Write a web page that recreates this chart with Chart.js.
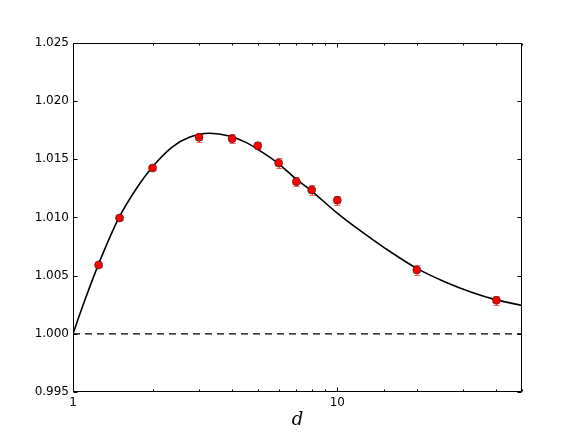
<!DOCTYPE html>
<html>
<head>
<meta charset="utf-8">
<script src="https://cdn.jsdelivr.net/npm/chart.js@4/dist/chart.umd.min.js"></script>
<style>
html,body{margin:0;padding:0;background:#fff;}
#wrap{width:581px;height:436px;}
</style>
</head>
<body>
<div id="wrap"><canvas id="c" width="581" height="436"></canvas></div>
<script>
// Measured data points
const pointD   = [1.25, 1.5, 2, 3, 4, 5, 6, 7, 8, 10, 20, 40];
const pointVal = [1.00592, 1.00996, 1.01425, 1.01689, 1.01677, 1.01617, 1.01468, 1.01308, 1.01236, 1.01148, 1.00549, 1.00288];
const pointErr = [0.0002, 0.0002, 0.0002, 0.0004, 0.0004, 0.0003, 0.0004, 0.0004, 0.0004, 0.0004, 0.0004, 0.0004];

// Fitted curve
const curveD   = [1, 1.091, 1.243, 1.491, 1.733, 1.987, 2.385, 2.756, 3.281, 3.902, 4.508, 5.212, 5.973, 6.985, 7.957, 9.97, 12.11, 15.27, 19.92, 25.72, 32.40, 39.71, 50];
const curveVal = [1.0000, 1.00245, 1.00586, 1.00996, 1.01245, 1.01428, 1.01609, 1.01689, 1.01724, 1.01701, 1.01646, 1.01560, 1.01466, 1.01330, 1.01232, 1.01040, 1.00893, 1.00731, 1.00565, 1.00444, 1.00356, 1.00294, 1.00244];

// Reference line
const refD   = [1, 50];
const refVal = [1.0, 1.0];

// Axes
const xMin = 1, xMax = 50;
const yMin = 0.995, yMax = 1.025, yStep = 0.005;
const xLabelled = [1, 10];
const xTitle = 'd';

const errPlugin = {
  id: 'errbars',
  beforeDatasetsDraw(chart) {
    const {ctx, scales: {x, y}} = chart;
    ctx.save();
    ctx.strokeStyle = 'rgba(255,30,30,0.7)';
    ctx.lineWidth = 1;
    pointD.forEach((d, i) => {
      const px = Math.round(x.getPixelForValue(d)) + 0.5;
      const y1 = Math.round(y.getPixelForValue(pointVal[i] - pointErr[i])) + 0.5;
      const y2 = Math.round(y.getPixelForValue(pointVal[i] + pointErr[i])) + 0.5;
      ctx.beginPath();
      ctx.moveTo(px, y1); ctx.lineTo(px, y2);
      ctx.moveTo(px - 3, y1); ctx.lineTo(px + 3, y1);
      ctx.moveTo(px - 3, y2); ctx.lineTo(px + 3, y2);
      ctx.stroke();
    });
    ctx.restore();
  }
};

const framePlugin = {
  id: 'frame',
  afterDraw(chart) {
    const {ctx, chartArea: a, scales: {x, y}} = chart;
    ctx.save();
    ctx.strokeStyle = '#000';
    ctx.lineWidth = 1;
    const L = Math.round(a.left) + 0.5, R = Math.round(a.right) - 0.5;
    const T = Math.round(a.top) + 0.5, B = Math.round(a.bottom) - 0.5;
    ctx.beginPath();
    ctx.rect(L, T, R - L, B - T);
    ctx.stroke();
    ctx.beginPath();
    x.ticks.forEach(t => {
      const v = t.value;
      const major = xLabelled.includes(v);
      const len = major ? 4 : 2;
      const px = Math.round(x.getPixelForValue(v)) + 0.5;
      ctx.moveTo(px, B); ctx.lineTo(px, B - len);
      ctx.moveTo(px, T); ctx.lineTo(px, T + len);
    });
    y.ticks.forEach(t => {
      const py = Math.round(y.getPixelForValue(t.value)) + 0.5;
      ctx.moveTo(L, py); ctx.lineTo(L + 4, py);
      ctx.moveTo(R, py); ctx.lineTo(R - 4, py);
    });
    ctx.stroke();
    ctx.restore();
  }
};

Chart.defaults.font.family = 'DejaVu Sans';
Chart.defaults.font.size = 12;
Chart.defaults.color = '#000';

new Chart(document.getElementById('c'), {
  type: 'scatter',
  data: {
    datasets: [
      {
        type: 'scatter',
        data: pointD.map((d, i) => ({x: d, y: pointVal[i]})),
        backgroundColor: '#ff0000',
        borderColor: '#222',
        borderWidth: 0.6,
        pointRadius: 4,
        order: 0
      },
      {
        type: 'line',
        data: curveD.map((d, i) => ({x: d, y: curveVal[i]})),
        borderColor: '#000',
        borderWidth: 1.6,
        pointRadius: 0,
        cubicInterpolationMode: 'monotone',
        fill: false,
        order: 1
      },
      {
        type: 'line',
        data: refD.map((d, i) => ({x: d, y: refVal[i]})),
        borderColor: '#000',
        borderWidth: 1.2,
        borderDash: [7, 5],
        pointRadius: 0,
        fill: false,
        order: 2
      }
    ]
  },
  options: {
    responsive: false,
    animation: false,
    events: [],
    layout: {padding: {left: 0, top: 43, right: 59, bottom: 0}},
    plugins: {legend: {display: false}, tooltip: {enabled: false}},
    scales: {
      x: {
        type: 'logarithmic',
        position: 'bottom',
        min: xMin,
        max: xMax,
        grid: {display: false, drawTicks: false},
        border: {display: false},
        ticks: {
          autoSkip: false,
          maxRotation: 0,
          padding: 4,
          callback: (v) => xLabelled.includes(v) ? String(v) : ''
        },
        title: {
          display: true,
          text: xTitle,
          font: {family: 'DejaVu Serif', style: 'italic', size: 18},
          padding: {top: 0, bottom: 5}
        },
        afterFit(s) { s.height = 44; }
      },
      y: {
        type: 'linear',
        min: yMin,
        max: yMax,
        grid: {display: false, drawTicks: false},
        border: {display: false},
        ticks: {
          stepSize: yStep,
          padding: 4,
          callback: (v) => Number(v).toFixed(3)
        },
        afterFit(s) { s.width = 73; }
      }
    }
  },
  plugins: [errPlugin, framePlugin]
});
</script>
</body>
</html>
